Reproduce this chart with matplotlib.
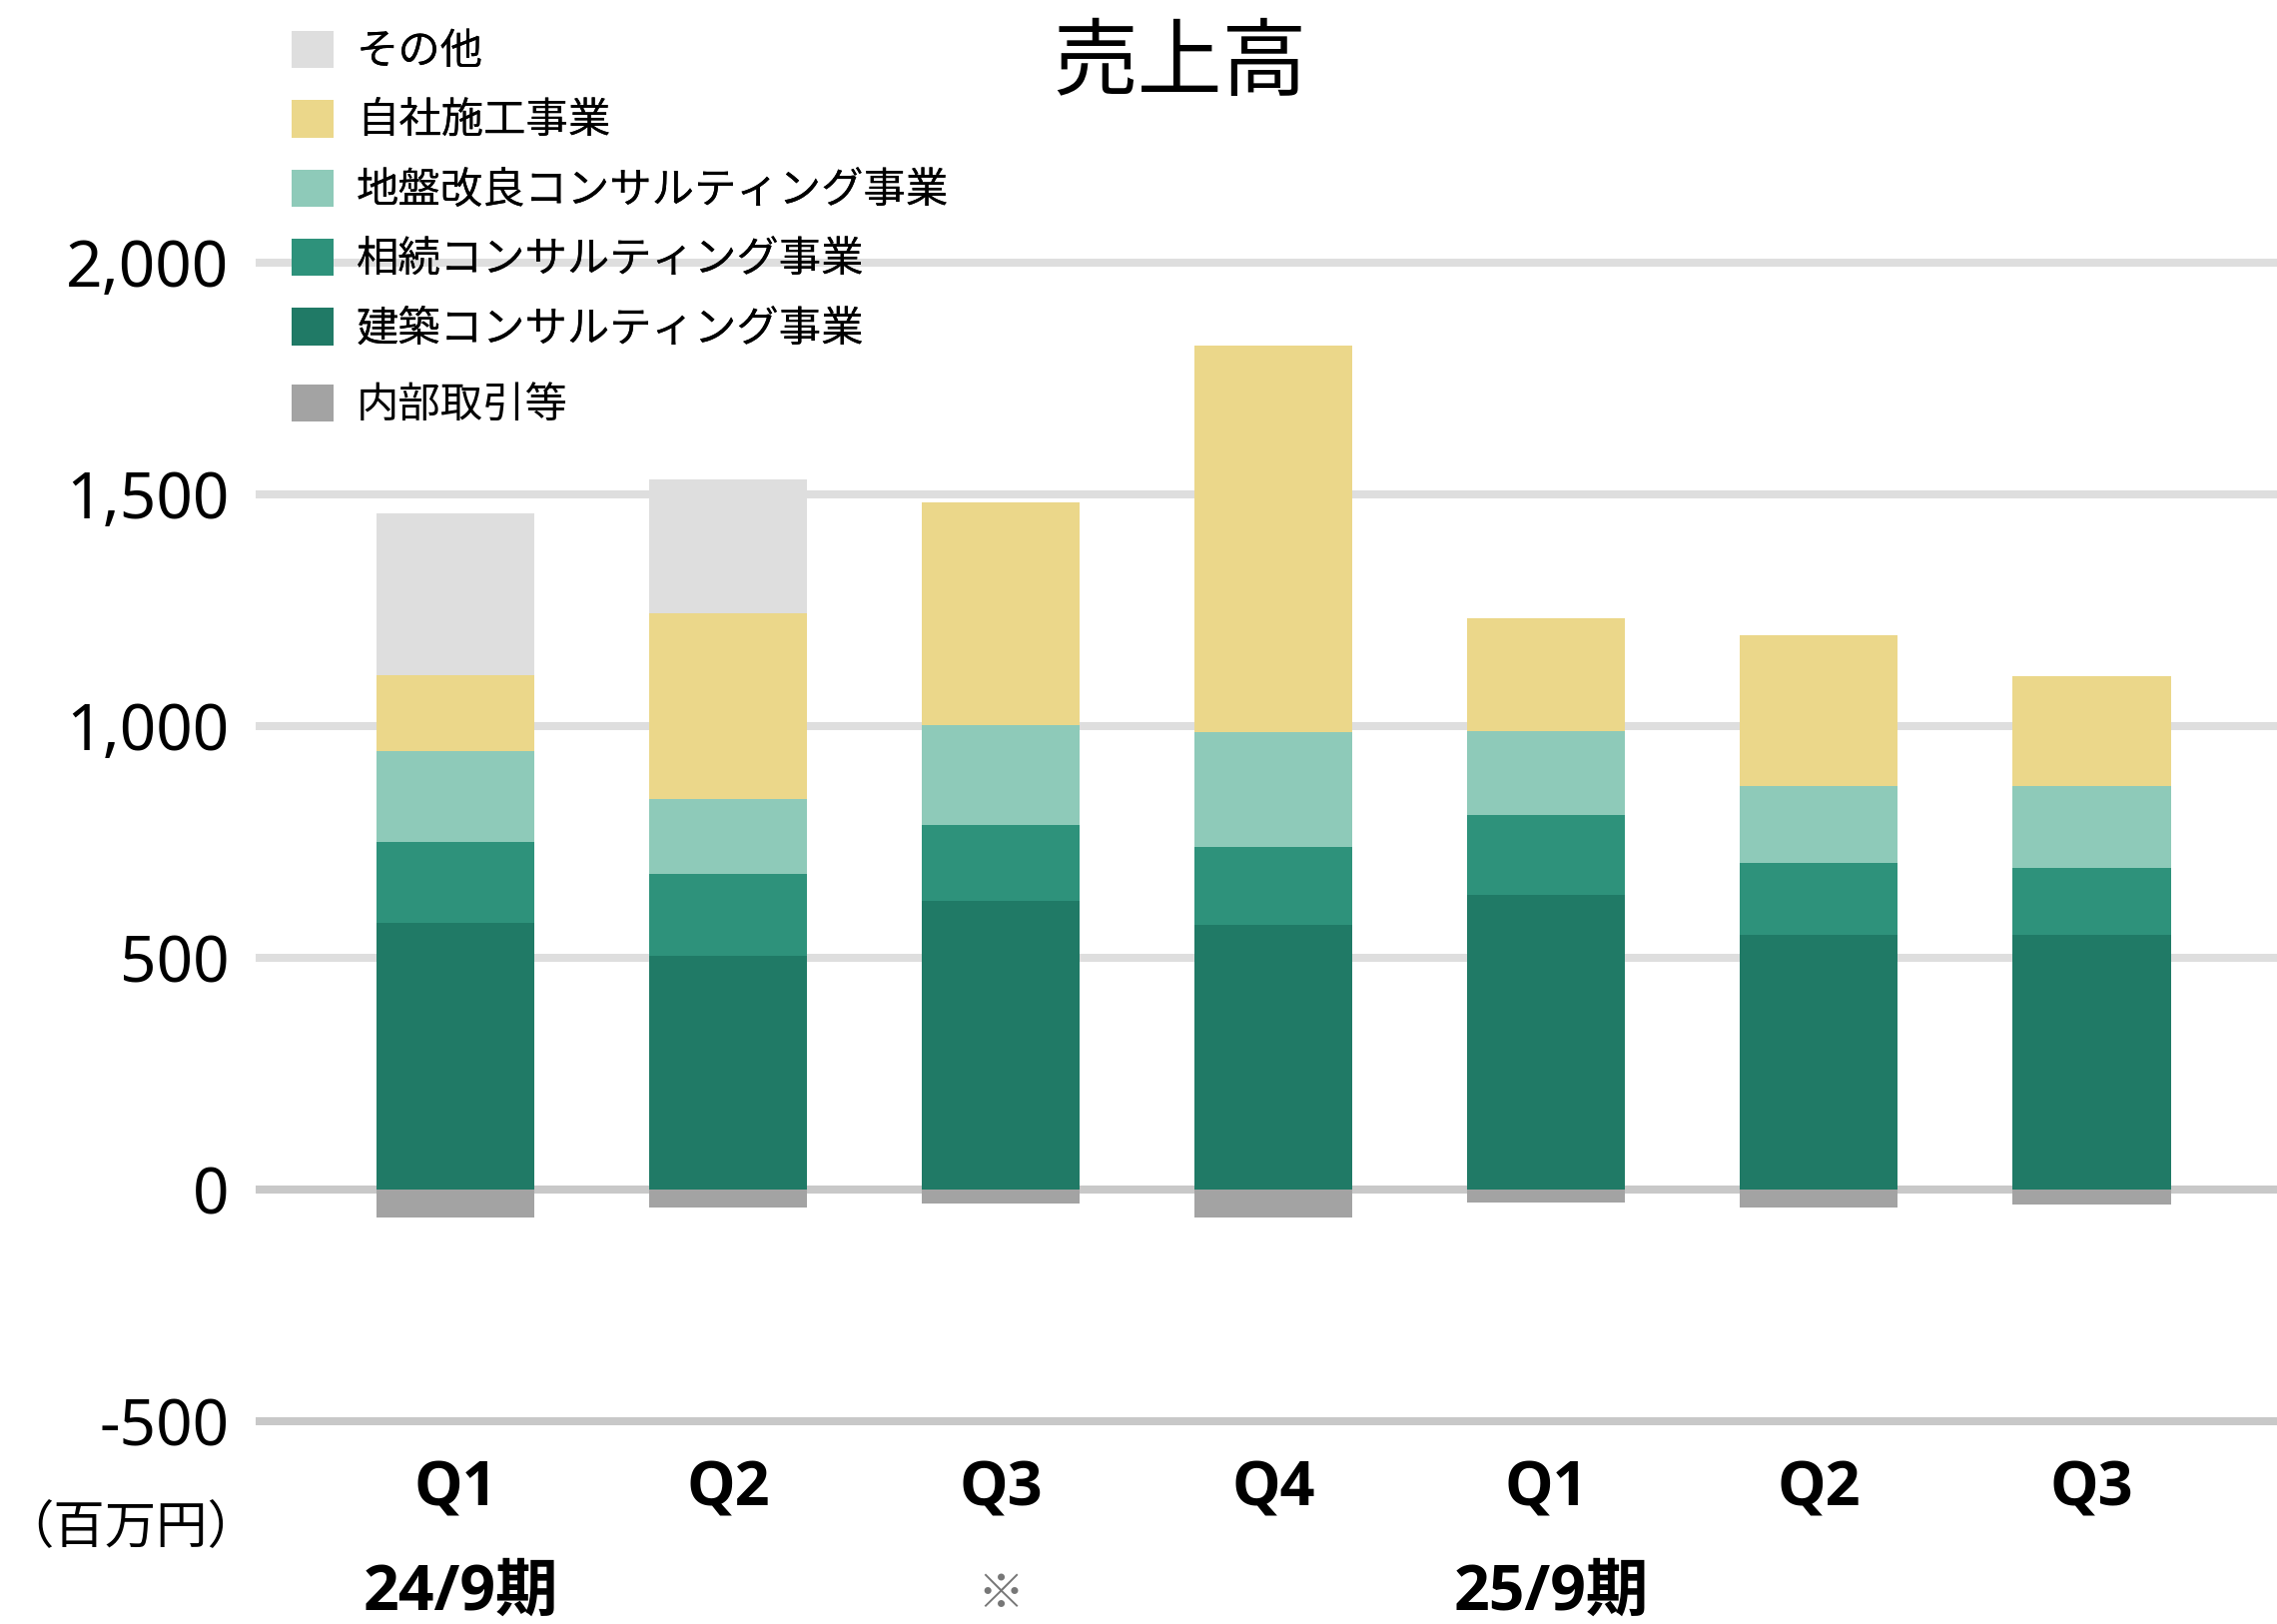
import matplotlib
matplotlib.use("Agg")
import matplotlib.pyplot as plt
import numpy as np

# ---- data (百万円) ----
quarters = ["Q1", "Q2", "Q3", "Q4", "Q1", "Q2", "Q3"]
kenchiku = [574, 503, 622, 570, 635, 549, 549]      # 建築コンサルティング事業
souzoku = [175, 177, 164, 168, 172, 155, 144]       # 相続コンサルティング事業
jiban = [195, 161, 216, 247, 182, 166, 177]         # 地盤改良コンサルティング事業
jisha = [164, 402, 479, 835, 242, 326, 236]         # 自社施工事業
sonota = [351, 289, 0, 0, 0, 0, 0]                  # その他
naibu = [-61, -40, -31, -61, -29, -40, -33]         # 内部取引等
yticks = [-500, 0, 500, 1000, 1500, 2000]
ytick_labels = ["-500", "0", "500", "1,000", "1,500", "2,000"]
period_labels = ["24/9期", "※", "25/9期"]
period_pos = [0, 2, 4]

series = [
    ("建築コンサルティング事業", kenchiku, "#207a66"),
    ("相続コンサルティング事業", souzoku, "#2e927b"),
    ("地盤改良コンサルティング事業", jiban, "#8ecab9"),
    ("自社施工事業", jisha, "#ebd78a"),
    ("その他", sonota, "#dedede"),
]

FAM = ["Noto Sans", "Noto Sans CJK JP", "DejaVu Sans"]
BFAM = ["Open Sans", "Noto Sans CJK JP", "DejaVu Sans"]
JFAM = ["Noto Sans CJK JP", "DejaVu Sans"]
plt.rcParams["font.family"] = FAM

fig = plt.figure(figsize=(22.8, 16.26), dpi=100)
ax = fig.add_axes([256 / 2280, 0.1223, 1 - 256 / 2280, 0.8414 - 0.1223])

x = np.arange(len(quarters))
w = 0.58
bottom = np.zeros(len(x))
handles = {}
for name, vals, col in series:
    b = ax.bar(x, vals, w, bottom=bottom, color=col, zorder=3, label=name)
    handles[name] = b
    bottom += np.array(vals)
hn = ax.bar(x, naibu, w, color="#a3a3a3", zorder=3, label="内部取引等")
handles["内部取引等"] = hn

# grid lines
for yt in yticks:
    c = "#c8c8c8" if yt <= 0 else "#dedede"
    ax.axhline(yt, color=c, lw=5.8, zorder=1)

ax.set_xlim(-0.733, 6.68)
ax.set_ylim(-510, 2010)
ax.set_yticks(yticks)
ax.set_yticklabels(ytick_labels, fontsize=46)
ax.set_xticks(x)
ax.set_xticklabels(quarters, fontsize=44, fontweight="bold", family=BFAM)
ax.tick_params(axis="both", length=0)
ax.tick_params(axis="y", pad=19)
ax.tick_params(axis="x", pad=25)
for s in ax.spines.values():
    s.set_visible(False)

# legend
order = ["その他", "自社施工事業", "地盤改良コンサルティング事業",
         "相続コンサルティング事業", "建築コンサルティング事業"]
leg_kw = dict(frameon=False, handlelength=0.98, handleheight=0.98,
              handletextpad=0.55, borderpad=0, borderaxespad=0,
              prop={"family": JFAM, "size": 30.5})
leg = fig.legend([handles[k] for k in order], order, loc="upper left",
                 bbox_to_anchor=(292 / 2280, 1 - 30 / 1626),
                 labelspacing=0.60, **leg_kw)
leg2 = fig.legend([handles["内部取引等"]], ["内部取引等"], loc="center left",
                  bbox_to_anchor=(292 / 2280, 1 - 406 / 1626), **leg_kw)
fig.add_artist(leg)

# title
fig.text(0.518, 0.960, "売上高", ha="center", va="center", fontsize=61,
         family=JFAM)

# unit label
fig.text(2 / 2280, 0.059, "（百万円）", ha="left", va="center", fontsize=37,
         family=JFAM)

# period labels
trans = matplotlib.transforms.blended_transform_factory(ax.transData, fig.transFigure)
for lab, p in zip(period_labels, period_pos):
    if lab == "※":
        ax.text(p, 0.018, lab, transform=trans, ha="center", va="center",
                fontsize=34, color="#777777", family=JFAM)
    else:
        ax.text(p + 0.02, 0.019, lab, transform=trans, ha="center", va="center",
                fontsize=45, fontweight="bold", family=BFAM)

fig.savefig("out.png", dpi=100)
